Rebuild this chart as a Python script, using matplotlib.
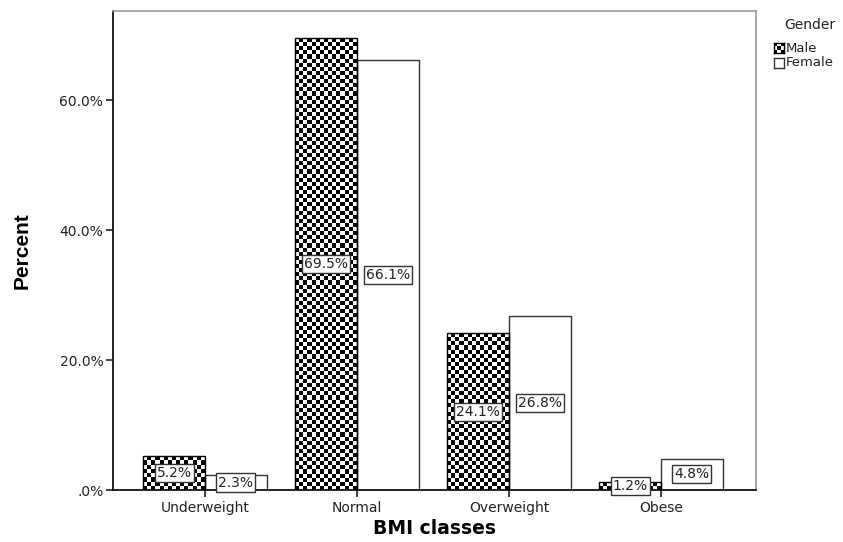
import numpy as np
import matplotlib
matplotlib.use("Agg")
import matplotlib.pyplot as plt
from matplotlib.patches import Rectangle

# --- data ---
categories = ["Underweight", "Normal", "Overweight", "Obese"]
male_pct = [5.2, 69.5, 24.1, 1.2]
female_pct = [2.3, 66.1, 26.8, 4.8]
y_ticks = [0, 20, 40, 60]
y_tick_labels = [".0%", "20.0%", "40.0%", "60.0%"]

W, H = 843, 542
DPI = 100
CELL_PX = 4.1
BAR_W = 0.405
FONT = "DejaVu Sans"


def checker(nx, ny):
    ix, iy = np.meshgrid(np.arange(nx), np.arange(ny))
    return ((ix + iy) % 2).astype(float)


fig = plt.figure(figsize=(W / DPI, H / DPI), dpi=DPI, facecolor="white")
ax = fig.add_axes([113 / W, 1 - 490 / H, (756 - 113) / W, (490 - 11) / H])
ax.set_xlim(-0.605, 3.625)
ax.set_ylim(0, 73.7)

x = np.arange(len(categories))

# pixel scale for the checker pattern
px_per_x = (756 - 113) / (3.625 + 0.605)
px_per_y = (490 - 11) / 73.7

for xi, v in zip(x, male_pct):
    x0 = xi - BAR_W
    nx = max(1, int(round(BAR_W * px_per_x / CELL_PX)))
    ny = max(1, int(round(v * px_per_y / CELL_PX)))
    ax.imshow(checker(nx, ny), extent=(x0, xi, 0, v), origin="lower",
              cmap="gray", interpolation="nearest", aspect="auto",
              vmin=0, vmax=1, zorder=2)
    ax.add_patch(Rectangle((x0, 0), BAR_W, v, facecolor="none",
                           edgecolor="black", lw=1.0, zorder=3))

ax.bar(x + BAR_W / 2, female_pct, width=BAR_W, color="white",
       edgecolor="#333333", lw=1.0, zorder=2)

# value labels
box = dict(boxstyle="square,pad=0.15", fc="white", ec="#333333", lw=1.0)
for xi, v in zip(x, male_pct):
    ax.text(xi - BAR_W / 2, v / 2, f"{v:.1f}%", ha="center", va="center",
            fontsize=10, family=FONT, color="#222222", zorder=5, bbox=box)
for xi, v in zip(x, female_pct):
    ax.text(xi + BAR_W / 2, v / 2, f"{v:.1f}%", ha="center", va="center",
            fontsize=10, family=FONT, color="#222222", zorder=5, bbox=box)

ax.set_xticks(x)
ax.set_xticklabels(categories, fontsize=10, family=FONT, color="#222222")
ax.set_yticks(y_ticks)
ax.set_yticklabels(y_tick_labels, fontsize=10, family=FONT, color="#222222")
ax.tick_params(axis="both", direction="out", length=5, width=1.2, color="#222222")
ax.tick_params(axis="x", pad=3)
ax.tick_params(axis="y", pad=2)

for side in ["left", "bottom"]:
    ax.spines[side].set_color("#111111")
    ax.spines[side].set_linewidth(1.3)
for side in ["top", "right"]:
    ax.spines[side].set_color("#999999")
    ax.spines[side].set_linewidth(1.2)

ax.set_xlabel("BMI classes", fontsize=13.5, fontweight="bold", family=FONT,
              labelpad=3)
ax.set_ylabel("Percent", fontsize=15, fontweight="bold",
              family=["Liberation Sans Narrow", "Liberation Sans"], labelpad=20)

# legend drawn by hand
fig.text(784 / W, 1 - 25 / H, "Gender", fontsize=10, family=FONT,
         va="center", ha="left", color="#222222")
lax = fig.add_axes([774 / W, 1 - 53 / H, 10 / W, 10 / H])
lax.imshow(checker(3, 3), cmap="gray", interpolation="nearest",
           vmin=0, vmax=1, extent=(0, 1, 0, 1))
lax.set_xticks([])
lax.set_yticks([])
for s in lax.spines.values():
    s.set_color("black")
    s.set_linewidth(1)
fax = fig.add_axes([774 / W, 1 - 68 / H, 10 / W, 10 / H])
fax.set_xticks([])
fax.set_yticks([])
for s in fax.spines.values():
    s.set_color("#333333")
    s.set_linewidth(1)
fig.text(786 / W, 1 - 48 / H, "Male", fontsize=9.5, family=FONT,
         va="center", ha="left", color="#222222")
fig.text(786 / W, 1 - 63 / H, "Female", fontsize=9.5, family=FONT,
         va="center", ha="left", color="#222222")

fig.savefig("out.png", dpi=DPI, facecolor="white")
